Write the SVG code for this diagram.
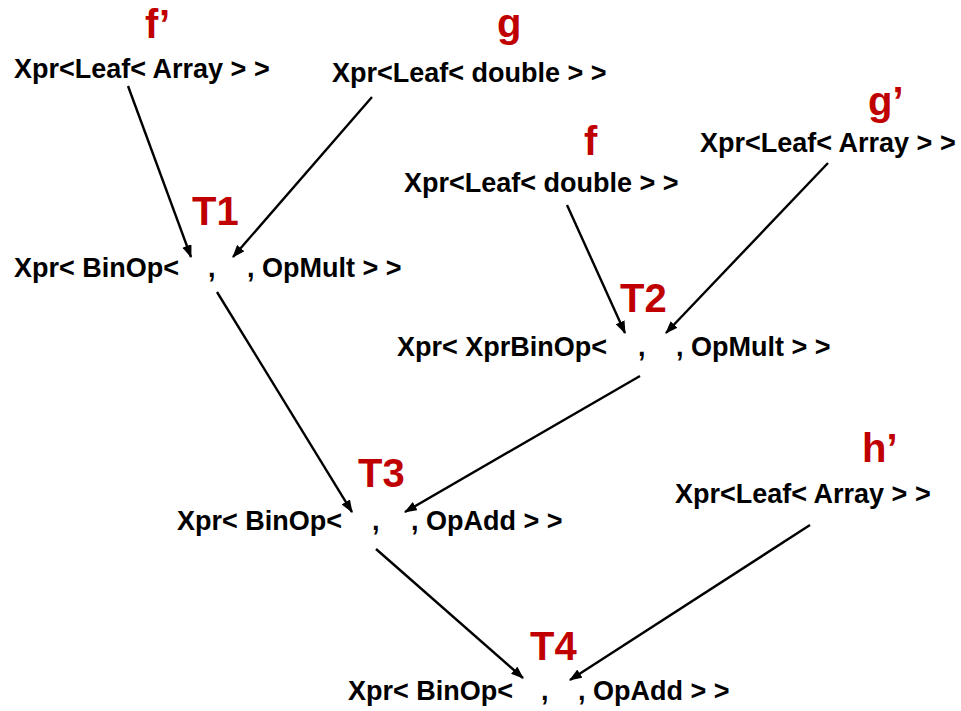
<svg xmlns="http://www.w3.org/2000/svg" width="961" height="711" viewBox="0 0 961 711">
  <style>
    .expr { font-family: "Liberation Sans", Arial, sans-serif; font-weight: bold; font-size: 27px; fill: #000; }
    .tag { font-family: "Liberation Sans", Arial, sans-serif; font-weight: bold; font-size: 40px; fill: #c00000; }
    .edge { stroke: #000; stroke-width: 2.4; fill: none; marker-end: url(#arrow); }
  </style>
  <defs>
    <marker id="arrow" viewBox="0 0 12 9" refX="11" refY="4.5" markerWidth="5.4" markerHeight="4" orient="auto" markerUnits="strokeWidth">
      <path d="M0,0 L12,4.5 L0,9 Z" fill="#000"/>
    </marker>
  </defs>
  <rect width="961" height="711" fill="#fff"/>

  <!-- expression tree edges -->
  <g id="edges">
    <line class="edge" x1="128" y1="86" x2="191" y2="257"/>
    <line class="edge" x1="372" y1="97" x2="233" y2="257"/>
    <line class="edge" x1="217" y1="292" x2="352" y2="512"/>
    <line class="edge" x1="567" y1="205" x2="625" y2="333"/>
    <line class="edge" x1="828" y1="163" x2="666" y2="333"/>
    <line class="edge" x1="640" y1="376" x2="405" y2="512"/>
    <line class="edge" x1="376" y1="549" x2="523" y2="678"/>
    <line class="edge" x1="810" y1="525" x2="570" y2="680"/>
  </g>

  <!-- leaves -->
  <g id="leaf-f-prime">
    <text class="tag" x="145" y="38">f’</text>
    <text class="expr" x="14" y="78">Xpr&lt;Leaf&lt; Array &gt; &gt;</text>
  </g>
  <g id="leaf-g">
    <text class="tag" x="497" y="37">g</text>
    <text class="expr" x="332" y="82">Xpr&lt;Leaf&lt; double &gt; &gt;</text>
  </g>
  <g id="leaf-g-prime">
    <text class="tag" x="868" y="115">g’</text>
    <text class="expr" x="700" y="152">Xpr&lt;Leaf&lt; Array &gt; &gt;</text>
  </g>
  <g id="leaf-f">
    <text class="tag" x="584" y="155">f</text>
    <text class="expr" x="404" y="192">Xpr&lt;Leaf&lt; double &gt; &gt;</text>
  </g>
  <g id="leaf-h-prime">
    <text class="tag" x="862" y="462">h’</text>
    <text class="expr" x="675" y="503">Xpr&lt;Leaf&lt; Array &gt; &gt;</text>
  </g>

  <!-- binary operation nodes -->
  <g id="node-T1">
    <text class="tag" x="192" y="225">T1</text>
    <text class="expr" y="277"><tspan x="14">Xpr&lt; BinOp&lt;</tspan><tspan x="208">,</tspan><tspan x="247">, OpMult &gt; &gt;</tspan></text>
  </g>
  <g id="node-T2">
    <text class="tag" x="620" y="312">T2</text>
    <text class="expr" y="356"><tspan x="397">Xpr&lt; XprBinOp&lt;</tspan><tspan x="638">,</tspan><tspan x="676">, OpMult &gt; &gt;</tspan></text>
  </g>
  <g id="node-T3">
    <text class="tag" x="358" y="487">T3</text>
    <text class="expr" y="530"><tspan x="177">Xpr&lt; BinOp&lt;</tspan><tspan x="372">,</tspan><tspan x="411">, OpAdd &gt; &gt;</tspan></text>
  </g>
  <g id="node-T4">
    <text class="tag" x="530" y="660">T4</text>
    <text class="expr" y="700"><tspan x="348">Xpr&lt; BinOp&lt;</tspan><tspan x="541">,</tspan><tspan x="578">, OpAdd &gt; &gt;</tspan></text>
  </g>
</svg>
